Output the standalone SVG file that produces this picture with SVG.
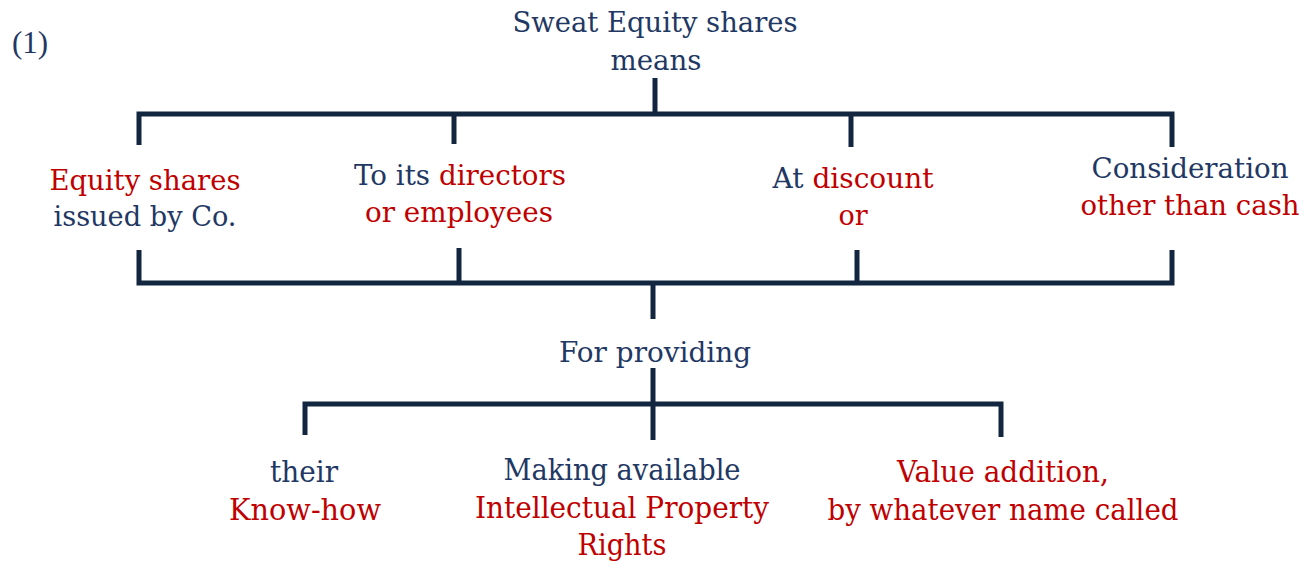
<svg xmlns="http://www.w3.org/2000/svg" width="1314" height="563" viewBox="0 0 1314 563">
<style>
text{font-family:"DejaVu Serif","Liberation Serif",serif;font-size:27px;text-anchor:middle;}
.n{fill:#1F3864;}
.r{fill:#C00000;}
.b{font-size:29px;}
.lines{stroke:#12263F;stroke-width:5;fill:none;stroke-linecap:butt;stroke-linejoin:miter;}
</style>
<rect width="1314" height="563" fill="#fff"/>
<text class="n" x="30" y="53" style="font-family:'Liberation Serif',serif;font-size:31px">(1)</text>
<g id="root"><text class="n" x="655" y="32" textLength="285" lengthAdjust="spacingAndGlyphs">Sweat Equity shares</text><text class="n" x="656" y="70" textLength="91" lengthAdjust="spacingAndGlyphs">means</text></g>
<g id="n1"><text class="r" x="145" y="190" textLength="191" lengthAdjust="spacingAndGlyphs">Equity shares</text><text class="n" x="145" y="226" textLength="183" lengthAdjust="spacingAndGlyphs">issued by Co.</text></g>
<g id="n2"><text x="460" y="185" textLength="212" lengthAdjust="spacingAndGlyphs"><tspan class="n">To its </tspan><tspan class="r">directors</tspan></text><text class="r" x="459" y="222" textLength="188" lengthAdjust="spacingAndGlyphs">or employees</text></g>
<g id="n3"><text x="853" y="188" textLength="161" lengthAdjust="spacingAndGlyphs"><tspan class="n">At </tspan><tspan class="r">discount</tspan></text><text class="r" x="853" y="225">or</text></g>
<g id="n4"><text class="n" x="1190" y="178" textLength="197" lengthAdjust="spacingAndGlyphs">Consideration</text><text class="r" x="1190" y="215" textLength="219" lengthAdjust="spacingAndGlyphs">other than cash</text></g>
<g id="mid"><text class="n" x="655" y="362" textLength="192" lengthAdjust="spacingAndGlyphs">For providing</text></g>
<g id="c1"><text class="n b" x="304" y="482" textLength="68" lengthAdjust="spacingAndGlyphs">their</text><text class="r b" x="305" y="520" textLength="152" lengthAdjust="spacingAndGlyphs">Know-how</text></g>
<g id="c2"><text class="n b" x="622" y="480" textLength="237" lengthAdjust="spacingAndGlyphs">Making available</text><text class="r b" x="622" y="518" textLength="294" lengthAdjust="spacingAndGlyphs">Intellectual Property</text><text class="r b" x="622" y="555" textLength="89" lengthAdjust="spacingAndGlyphs">Rights</text></g>
<g id="c3"><text class="r b" x="1003" y="482" textLength="212" lengthAdjust="spacingAndGlyphs">Value addition,</text><text class="r b" x="1003" y="520" textLength="351" lengthAdjust="spacingAndGlyphs">by whatever name called</text></g>
<g id="connectors" class="lines">
<path d="M655 78V114"/>
<path d="M139 145V114H1172V147"/>
<path d="M454 114V144M851 114V147"/>
<path d="M139 250V283H1172V250"/>
<path d="M459 248V283M857 250V283"/>
<path d="M653 283V319"/>
<path d="M653 368V440"/>
<path d="M305 435V404H1001V437"/>
</g>
</svg>
